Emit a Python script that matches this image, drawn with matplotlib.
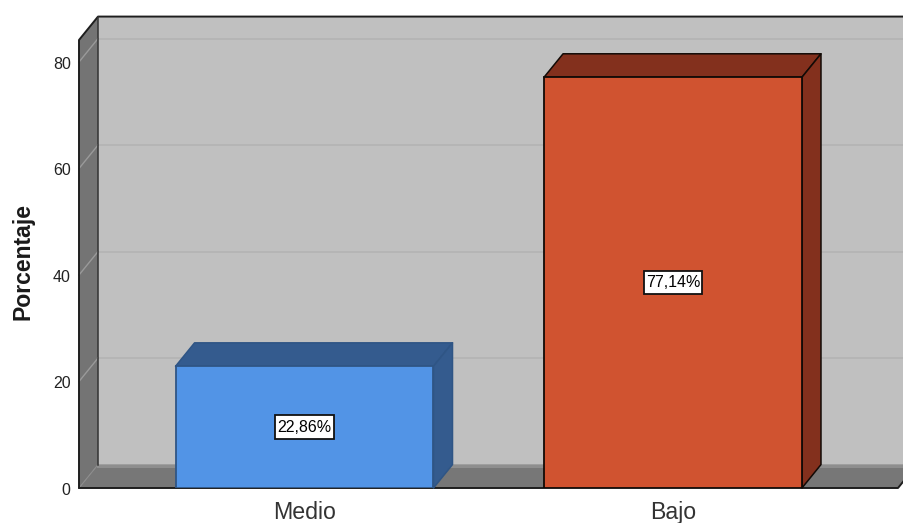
import numpy as np
import matplotlib
matplotlib.use("Agg")
import matplotlib.pyplot as plt
from matplotlib.patches import Polygon, Rectangle
from matplotlib.transforms import ScaledTranslation

categorias = ["Medio", "Bajo"]
porcentajes = [22.86, 77.14]
etiquetas = ["22,86%", "77,14%"]
marcas_y = [0, 20, 40, 60, 80]

colores_frente = ["#5294E6", "#D05330"]
colores_lado = ["#345B8E", "#83301D"]
colores_borde = ["#2F5585", "#120A06"]

plt.rcParams["font.family"] = ["Liberation Sans", "DejaVu Sans"]

W, H = 904, 523
fig = plt.figure(figsize=(W / 100, H / 100), dpi=100)
fig.patch.set_facecolor("white")
ax = fig.add_axes([79 / W, (H - 488) / H, (898 - 79) / W, (488 - 40) / H])

# limites del eje (posicion 0 y 1 para las categorias)
x0, x1 = -0.612, 1.6106
y_top = 84.13
dx, dy = 0.0516, 4.4
ancho = 0.70
ax.set_xlim(x0, x1)
ax.set_ylim(0, y_top)
ax.patch.set_visible(False)

def cara(puntos, color, borde="none", lw=0, z=1):
    p = Polygon(puntos, closed=True, facecolor=color, edgecolor=borde, linewidth=lw,
                zorder=z, clip_on=False, joinstyle="round")
    ax.add_patch(p)

# paredes y piso
far = x1 + dx
cara([(x0 + dx, dy), (far, dy), (far, y_top + dy), (x0 + dx, y_top + dy)], "#C0C0C0")
cara([(x0, 0), (x0 + dx, dy), (x0 + dx, y_top + dy), (x0, y_top)], "#747474")
cara([(x0, 0), (x1, 0), (far, dy), (x0 + dx, dy)], "#777777")

# lineas de cuadricula
for v in marcas_y[1:]:
    ax.plot([x0 + dx, far], [v + dy, v + dy], color="#B5B5B5", lw=1.4, zorder=2, clip_on=False)
    ax.plot([x0, x0 + dx], [v, v + dy], color="#9A9A9A", lw=1.0, zorder=2, clip_on=False)
ax.plot([x0 + dx, far], [dy - 0.2, dy - 0.2], color="#8E8E8E", lw=2.2, zorder=2, clip_on=False)
ax.plot([x0, x0 + dx], [0, dy], color="#8C8C8C", lw=0.8, zorder=2, clip_on=False)

# contornos de las paredes
linea = dict(color="#1E1E1E", lw=1.4, zorder=3, clip_on=False, solid_capstyle="round")
ax.plot([x0, x0, x0 + dx, far], [0, y_top, y_top + dy, y_top + dy], **linea)
ax.plot([x0 + dx, x0 + dx], [dy, y_top + dy], color="#333333", lw=1.1, zorder=3, clip_on=False)
ax.plot([x0, x1, far], [0, 0, dy], **linea)

# barras
xs = np.arange(len(categorias))
for x, v, cf, cl, cb, et in zip(xs, porcentajes, colores_frente, colores_lado, colores_borde, etiquetas):
    izq, der = x - ancho / 2, x + ancho / 2
    cara([(izq, v), (der, v), (der + dx, v + dy), (izq + dx, v + dy)], cl, cb, 1.1, 4)
    cara([(der, 0), (der + dx, dy), (der + dx, v + dy), (der, v)], cl, cb, 1.1, 4)
    ax.bar(x, v, width=ancho, color=cf, edgecolor=cb, linewidth=1.3, zorder=5)
    # caja de la etiqueta
    ax.add_patch(Rectangle((x - 0.079, v / 2 - 2.2), 0.158, 4.4, facecolor="white",
                           edgecolor="#111111", linewidth=1.3, zorder=6))
    ax.text(x, v / 2, et, ha="center", va="center", fontsize=11.5, color="black", zorder=7)

for s in ax.spines.values():
    s.set_visible(False)
ax.set_xticks(xs)
ax.set_xticklabels(categorias, fontsize=16.7, color="#333333")
ax.set_yticks(marcas_y)
ax.tick_params(axis="y", length=0, pad=6, labelsize=11.5, labelcolor="#222222")
ax.tick_params(axis="x", length=0, pad=9.5)

# bajar un poco los numeros del eje y
baja = ScaledTranslation(0, -0.7 / 72, fig.dpi_scale_trans)
for t in ax.get_yticklabels():
    t.set_transform(t.get_transform() + baja)

fig.text(23 / W, 1 - 261.5 / H, "Porcentaje", rotation=90, ha="center", va="center",
         fontsize=16.6, fontweight="bold", color="#1A1A1A")

fig.savefig("out.png", dpi=100)
